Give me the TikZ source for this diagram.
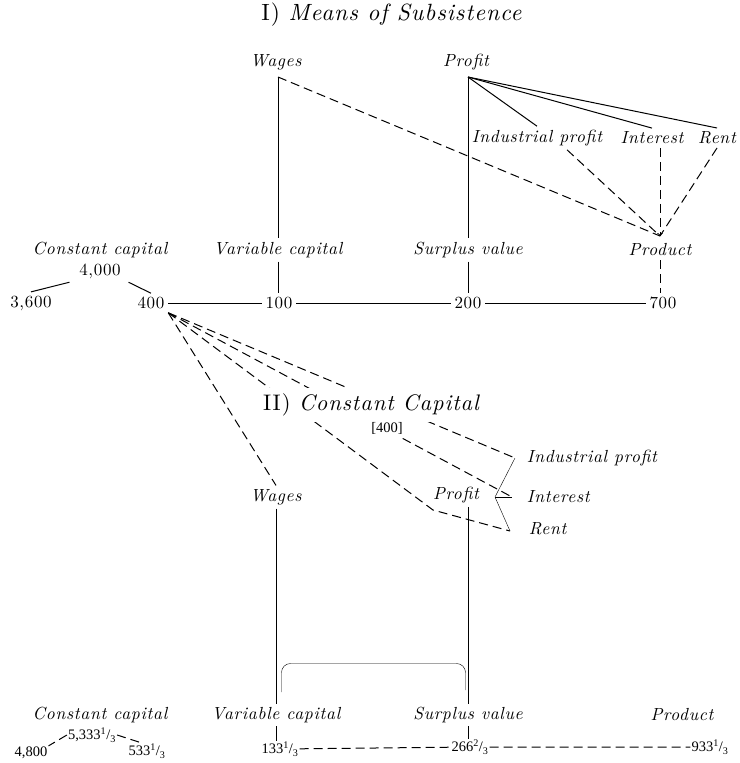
\documentclass[tikz,border=0pt]{standalone}
\usepackage{fontspec}
\newfontfamily\timesf{Liberation Serif}
\newfontfamily\spacedf{lmroman10-regular.otf}[ItalicFont=lmroman10-italic.otf, LetterSpace=4]
\usetikzlibrary{positioning}
\pgfdeclarelayer{bg}
\pgfsetlayers{bg,main}
\newcommand{\third}[1]{\textsuperscript{#1}/\textsubscript{3}}

\begin{document}
\begin{tikzpicture}[x=1pt,y=-1pt,line width=1pt,
    lbl/.style={font=\spacedf\fontsize{17.5}{20}\selectfont\itshape},
    num/.style={font=\spacedf\fontsize{17}{19}\selectfont},
    sml/.style={font=\timesf\fontsize{14.5}{16}\selectfont, inner sep=1pt},
    ttl/.style={font=\spacedf\fontsize{23.5}{27}\selectfont, fill=white, inner sep=6pt},
    dsh/.style={line width=1pt, dash pattern=on 9pt off 5pt}]
  \useasboundingbox (0,0) rectangle (739,763);

  % I) means of subsistence
  \node[ttl] (t1) at (392,15) {I) \textit{Means of Subsistence}};
  \node[lbl] (wA) at (276,62) {Wages};
  \node[lbl] (pA) at (466,62) {Profit};
  \coordinate (wA0) at (278,77);
  \coordinate (pA0) at (468,77);
  \node[lbl] (ipA) at (537,138) {Industrial profit};
  \node[lbl] (inA) at (652,138) {Interest};
  \node[lbl] (rA) at (717,138) {Rent};

  \node[lbl] (ccA) at (100,250) {Constant capital};
  \node[lbl] (vcA) at (278,250) {Variable capital};
  \node[lbl] (svA) at (468,250) {Surplus value};
  \node[lbl] (prA) at (660,250) {Product};
  \coordinate (tipA) at (660,236);

  \node[num] (n4000) at (100,271) {4,000};
  \node[num] (n3600) at (31,303) {3,600};
  \node[num] (n400) at (151,303) {400};
  \node[num] (n100) at (279,303) {100};
  \node[num] (n200) at (468,303) {200};
  \node[num] (n700) at (663,303) {700};

  \draw (wA0) -- (vcA.north);
  \draw (vcA.south) -- (vcA.south |- n100.north);
  \draw (pA0) -- (svA.north);
  \draw (svA.south) -- (n200.north);
  \draw (pA0) -- (ipA.north);
  \draw (pA0) -- (inA.north);
  \draw (pA0) -- (rA.north);
  \draw[dsh] (wA0) -- (tipA);
  \draw[dsh] ([xshift=30pt]ipA.south) -- (tipA);
  \draw[dsh,->] (inA.south -| tipA) -- (tipA);
  \draw[dsh] (rA.south) -- (tipA);
  \draw[dsh] (prA.south) -- (prA.south |- n700.north);

  \draw ([xshift=-6pt]n4000.south west) -- (n3600.north);
  \draw ([xshift=4pt]n4000.south east) -- (n400.north);
  \draw (n400) -- (n100) -- (n200) -- (n700);

  % II) constant capital
  \node[ttl, font=\spacedf\fontsize{22.5}{26}\selectfont] (t2) at (372,405) {II) \textit{Constant Capital}};
  \node[sml, fill=white, inner sep=4pt] (b400) at (387,428) {[400]};
  \node[lbl] (wB) at (276,497) {Wages};
  \node[lbl] (pB) at (456,495) {Profit};
  \node[lbl, anchor=west] (ipB) at (523,458) {Industrial profit};
  \node[lbl, anchor=west] (inB) at (523,497) {Interest};
  \node[lbl, anchor=west] (rB) at (525,529) {Rent};

  \coordinate (fan) at (n400.south east);
  \coordinate (kI) at (515,458);
  \coordinate (kM) at (495,497);
  \coordinate (kN) at (512,497);
  \coordinate (kR) at (510,531);
  \coordinate (kB) at (433,510);

  \begin{pgfonlayer}{bg}
    \draw[dsh] (fan) -- (wB.north);
    \draw[dsh] (fan) -- (kB) -- (kR);
    \draw[dsh] (fan) -- (kN);
    \draw[dsh] (fan) -- (kI);
  \end{pgfonlayer}
  \draw (kI) -- (kM) -- (kR);
  \draw (kM) -- (kN);

  \node[lbl] (ccB) at (100,715) {Constant capital};
  \node[lbl] (vcB) at (276,715) {Variable capital};
  \node[lbl] (svB) at (468,715) {Surplus value};
  \node[lbl] (prB) at (682,715) {Product};

  \node[sml] (n5333) at (92,735) {5,333\third{1}};
  \node[sml] (n4800) at (31,753) {4,800};
  \node[sml] (n533) at (147,751) {533\third{1}};
  \node[sml] (n133) at (280,749) {133\third{1}};
  \node[sml] (n266) at (470,747) {266\third{2}};
  \node[sml] (n933) at (710,747) {933\third{1}};

  \draw (wB.south) -- (vcB.north);
  \draw (vcB.south) -- (vcB.south |- n133.north);
  \draw (pB.south -| svB) -- (svB.north);
  \draw (svB.south) -- (svB.south |- n266.north);
  \coordinate (brL) at (281.5,692);
  \coordinate (brR) at (465.5,690);
  \draw[rounded corners=9pt] (brL) -- ++(0,-28.5) -| (brR);

  \draw[dsh] (n133) -- (n266) -- (n933);
  \draw[dsh] (n5333.west) -- (n4800.north east);
  \draw[dsh] (n5333.east) -- ([xshift=-6pt]n533.north);
\end{tikzpicture}
\end{document}
